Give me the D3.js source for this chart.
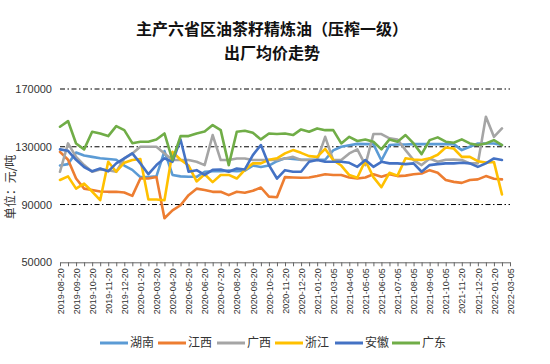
<!DOCTYPE html>
<html><head><meta charset="utf-8">
<script src="https://cdn.jsdelivr.net/npm/d3@7/dist/d3.min.js"></script>
<style>
html,body{margin:0;padding:0;background:#fff;}
svg{display:block;}
</style>
</head><body>
<svg id="chart" width="550" height="364"></svg>
<script>
const categories = [
"2019-08-20","2019-09-05","2019-09-20","2019-10-05","2019-10-20","2019-11-05","2019-11-20","2019-12-05",
"2019-12-20","2020-01-05","2020-01-20","2020-03-05","2020-03-20","2020-04-05","2020-04-20","2020-05-05",
"2020-05-20","2020-06-05","2020-06-20","2020-07-05","2020-07-20","2020-08-05","2020-08-20","2020-09-05",
"2020-09-20","2020-10-05","2020-10-20","2020-11-05","2020-11-20","2020-12-05","2020-12-20","2021-01-05",
"2021-01-20","2021-02-20","2021-03-05","2021-03-20","2021-04-05","2021-04-20","2021-05-05","2021-05-20",
"2021-06-05","2021-06-20","2021-07-05","2021-07-20","2021-08-05","2021-08-20","2021-09-05","2021-09-20",
"2021-10-05","2021-11-05","2021-11-20","2021-12-05","2021-12-20","2022-01-05","2022-01-20","2022-02-20",
"2022-03-05"];

const hunan = [117000,118000,126000,124000,123000,122000,121500,121000,117000,114000,109000,109000,109500,127000,110500,109500,
109200,109200,112700,113000,113000,113500,113000,113500,117000,116000,117000,120000,122000,121500,121000,121000,
121000,121000,127500,130000,131000,132000,131800,131800,120500,131200,131600,131600,131800,131800,131800,131800,
131800,131800,127700,130000,132300,132300,132300,131200];
const jiangxi = [126500,121000,108000,101000,100000,99000,98800,98800,98300,96000,108000,108000,109000,80500,86000,89500,
96500,101000,100000,98800,98800,96500,98800,98200,99500,101800,95500,95000,109000,108700,108500,108700,
109700,111000,110400,110400,108700,108000,108700,111000,109200,111000,109700,110000,111000,111500,113800,112000,
107000,105700,105000,107000,107400,109700,107800,107400];
const guangxi = [112700,132300,123000,117300,112700,114300,113800,112700,121900,125400,130000,130000,130000,125400,120800,120800,
120800,119600,117300,138100,120800,120800,121900,121900,120800,120800,120800,120800,121900,123000,120800,120800,
120800,136900,120800,120800,125400,128200,117300,138800,138800,135800,135000,127700,120800,117300,121900,119600,
121000,121200,120800,118500,118500,150800,136900,142700];
const zhejiang = [107000,109500,101000,104500,99000,93000,119600,112700,119000,120800,121500,93500,93500,93000,126500,121000,
117000,106000,111000,105500,110500,110500,108000,114000,118500,118500,121000,122000,125400,127700,125800,123500,
123000,128500,120800,117000,110400,108500,120500,109000,102000,112000,110000,122000,121200,120800,122000,124500,
129500,128800,123000,123000,120000,119000,119500,97000];
const anhui = [128200,127200,121000,116000,113000,115000,113000,118500,122000,125400,118500,111000,117300,122000,119600,135000,
112700,113800,110500,114000,114300,112700,115000,114300,124200,131200,117300,108000,113800,112700,112700,119600,
120800,119600,119600,119600,118900,116100,120800,116100,119600,118500,118500,118000,118500,112700,117300,118000,
118500,118500,118900,118500,116100,118500,121900,120800];
const guangdong = [143900,147800,132300,128200,140400,139200,137400,144300,141500,132500,133500,133500,135000,139200,120800,137400,
137400,139200,140500,145000,141500,117300,140400,141100,139700,135100,139200,138800,139200,138100,142000,140400,
142700,141500,141500,132300,136900,134000,135000,133500,128200,135100,133500,138100,132300,124900,134600,136500,
133500,132800,135100,132300,131200,132300,134600,131200];

const seriesNames = ["湖南","江西","广西","浙江","安徽","广东"];
const seriesColors = ["#5B9BD5","#ED7D31","#A5A5A5","#FFC000","#4472C4","#70AD47"];
const seriesData = [hunan, jiangxi, guangxi, zhejiang, anhui, guangdong];
const yTicks = [50000, 90000, 130000, 170000];
const titleLines = ["主产六省区油茶籽精炼油（压榨一级）", "出厂均价走势"];
const yTitle = "单位：元/吨";

const svg = d3.select("#chart");
const mLeft = 60, mRight = 510, mTop = 89, mBottom = 262.3;

const x = d3.scalePoint().domain(categories).range([mLeft, mRight]);
const y = d3.scaleLinear().domain([50000, 170000]).range([mBottom, mTop]);

// title
svg.append("g").selectAll("text").data(titleLines).join("text")
  .attr("x", 272).attr("y", (d,i) => 35 + i*23.5)
  .attr("text-anchor", "middle")
  .style("font-family", "'Noto Sans CJK SC', sans-serif")
  .style("font-weight", "bold").style("font-size", "16px").attr("fill", "#111")
  .text(d => d);

// gridlines
svg.append("g").selectAll("line").data(yTicks.filter(v => v > 50000)).join("line")
  .attr("x1", mLeft).attr("x2", mRight)
  .attr("y1", d => y(d)).attr("y2", d => y(d))
  .attr("stroke", "#000").attr("stroke-width", 1)
  .attr("stroke-dasharray", "5,2.5,1.5,2.5");

// y axis
const yAxis = svg.append("g").attr("transform", `translate(${mLeft},0)`)
  .call(d3.axisLeft(y).tickValues(yTicks).tickSize(0).tickPadding(8).tickFormat(d3.format("d")));
yAxis.select(".domain").remove();
yAxis.selectAll("text").style("font-family", "'Liberation Sans', Arial, sans-serif")
  .style("font-size", "11px").attr("fill", "#333");

// y title
svg.append("text")
  .attr("transform", "translate(15,187) rotate(-90)")
  .attr("text-anchor", "middle")
  .style("font-family", "'Noto Sans CJK SC', sans-serif")
  .style("font-size", "12px").attr("fill", "#333")
  .text(yTitle);

// x axis
const xAxis = svg.append("g").attr("transform", `translate(0,${mBottom})`)
  .call(d3.axisBottom(x).tickSizeInner(4).tickSizeOuter(0)
    .tickFormat((d,i) => i % 2 === 0 ? d : ""));
xAxis.select(".domain").attr("stroke", "#666");
xAxis.selectAll(".tick line").attr("stroke", "#666");
xAxis.selectAll("text")
  .attr("transform", "rotate(-90)")
  .attr("x", -6).attr("y", 0).attr("dy", "0.35em")
  .style("text-anchor", "end")
  .style("font-family", "'Liberation Sans', Arial, sans-serif")
  .style("font-size", "9px").attr("fill", "#333");

// lines
const line = d3.line()
  .defined(d => d.v != null)
  .x(d => x(d.c)).y(d => y(d.v));
svg.append("g").selectAll("path").data(seriesData).join("path")
  .attr("d", s => line(s.map((v,i) => ({c: categories[i], v}))))
  .attr("fill", "none")
  .attr("stroke", (d,i) => seriesColors[i])
  .attr("stroke-width", 2.6)
  .attr("stroke-linejoin", "round").attr("stroke-linecap", "round");

// legend
const legendX = [100, 158, 217, 275, 335, 392];
const lg = svg.append("g").selectAll("g").data(seriesNames).join("g")
  .attr("transform", (d,i) => `translate(${legendX[i]},343)`);
lg.append("line").attr("x1", 0).attr("x2", 28).attr("y1", 0).attr("y2", 0)
  .attr("stroke", (d,i) => seriesColors[i]).attr("stroke-width", 3);
lg.append("text").attr("x", 30).attr("y", 0).attr("dy", "0.35em")
  .style("font-family", "'Noto Sans CJK SC', sans-serif")
  .style("font-size", "12px").attr("fill", "#333")
  .text(d => d);
</script>
</body></html>
